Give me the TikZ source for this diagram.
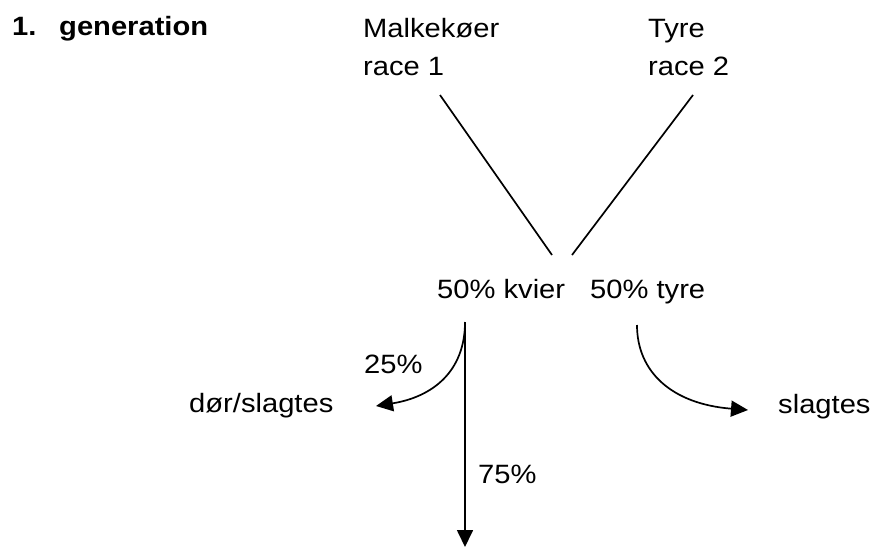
\documentclass[tikz,border=0pt]{standalone}
\usepackage{fontspec}
\setmainfont[FakeStretch=1.1]{Liberation Sans}
\usetikzlibrary{arrows.meta}
\begin{document}
\begin{tikzpicture}[x=1pt,y=-1pt,
  lbl/.style={inner sep=0pt, anchor=base west, font=\fontsize{26.5}{40}\selectfont},
  ln/.style={line width=1.7pt},
  arr/.style={ln,-{Triangle[length=17pt,width=16pt]}}]
\useasboundingbox (0,0) rectangle (875,547);
% texts
\node[lbl, font=\fontsize{26.5}{40}\selectfont\bfseries] (num) at (12,35) {1.};
\node[lbl, font=\fontsize{26.5}{40}\selectfont\bfseries] (gen) at (59,35) {generation};
\node[lbl] (mk) at (363,37) {Malkekøer};
\node[lbl] (r1) at (363,75) {race 1};
\node[lbl] (ty) at (648,37) {Tyre};
\node[lbl] (r2) at (648,75) {race 2};
\node[lbl] (kv) at (437,298) {50\% kvier};
\node[lbl] (ty2) at (590,298) {50\% tyre};
\node[lbl] (p25) at (364,373) {25\%};
\node[lbl] (dor) at (189,412) {dør/slagtes};
\node[lbl] (p75) at (478,483) {75\%};
\node[lbl] (sl) at (778,413) {slagtes};
% connector ends
\coordinate (a1) at (440,95);
\coordinate (a2) at (552,255);
\coordinate (b1) at (693,95);
\coordinate (b2) at (572,255);
\coordinate (k0) at (465,322);
\coordinate (k1) at (465,547);
\coordinate (kl) at (376,406);
\coordinate (t0) at (637,325);
\coordinate (tr) at (748,410);
% connectors
\draw[ln] (a1) -- (a2);
\draw[ln] (b1) -- (b2);
\draw[arr] (k0) -- (k1);
\draw[arr] (k0) .. controls (465,372) and (432,397) .. (kl);
\draw[arr] (t0) .. controls (637,372) and (672,404) .. (tr);
\end{tikzpicture}
\end{document}
